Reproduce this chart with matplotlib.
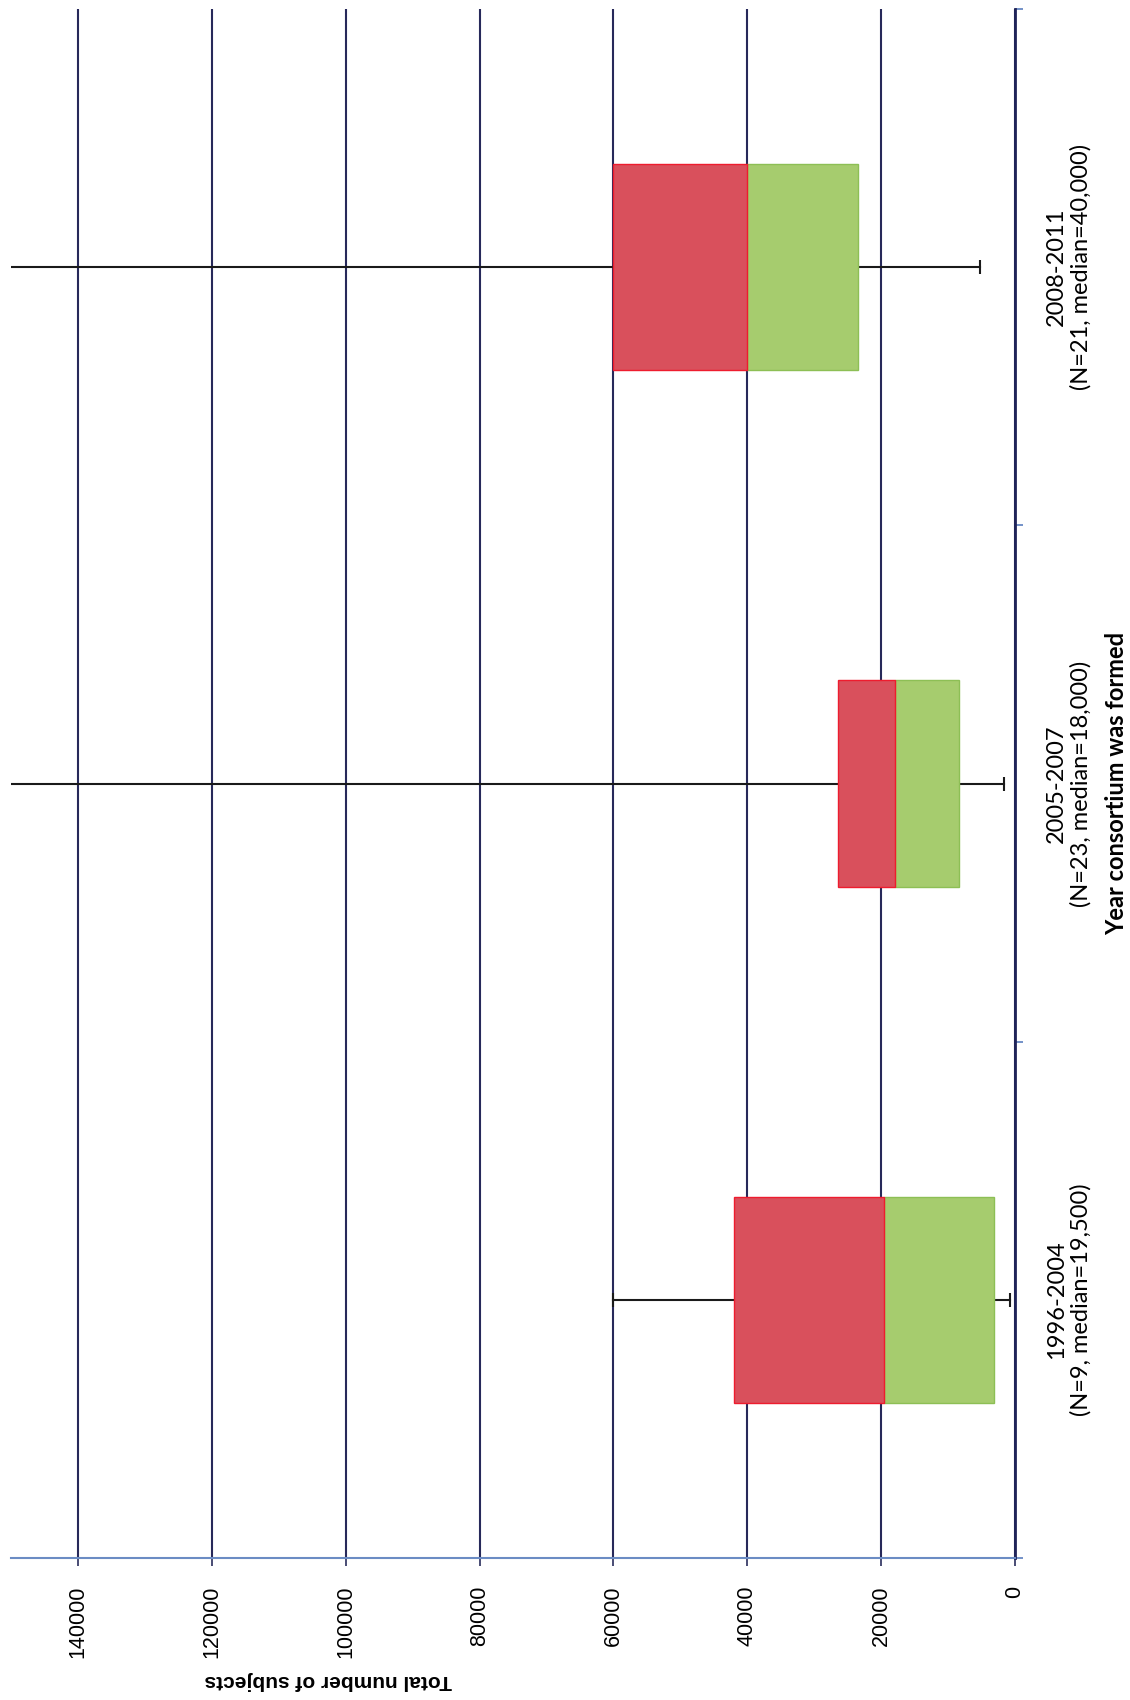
import matplotlib.pyplot as plt

# consortium formation periods, listed bottom to top
periods = ['1996-2004', '2005-2007', '2008-2011']
n_consortia = [9, 23, 21]
medians = [19500, 18000, 40000]

# box plot summaries of total subjects per consortium
minimums = [700, 1700, 5300]
q1 = [3100, 8300, 23400]
q3 = [42000, 26500, 60000]
maximums = [60000, 160000, 170000]

value_ticks = [0, 20000, 40000, 60000, 80000, 100000, 120000, 140000]

labels = []
for p, n, m in zip(periods, n_consortia, medians):
    labels.append(f'{p}\n(N={n}, median={m:,})')

fig = plt.figure(figsize=(11.3, 17), dpi=100)
ax = fig.add_axes([11 / 1130, 142 / 1700, 1004 / 1130, 1549 / 1700])

pos = [i + 0.5 for i in range(len(periods))]

# stacked boxes: q1 -> median in green, median -> q3 in red
lower = [m - a for m, a in zip(medians, q1)]
upper = [b - m for b, m in zip(q3, medians)]
ax.barh(pos, lower, left=q1, height=0.4, color='#a6cc6e',
        edgecolor='#8dbf55', linewidth=1, zorder=3)
ax.barh(pos, upper, left=medians, height=0.4, color='#d9505c',
        edgecolor='#ee1c2e', linewidth=1, zorder=3)

# whiskers with small caps
for y, lo, a, b, hi in zip(pos, minimums, q1, q3, maximums):
    ax.plot([lo, a], [y, y], color='#1a1a1a', lw=1.5, zorder=2)
    ax.plot([b, hi], [y, y], color='#1a1a1a', lw=1.5, zorder=2)
    ax.plot([lo, hi], [y, y], ls='none', marker='|', ms=10, mew=1.5,
            color='#1a1a1a', zorder=2)

ax.set_xlim(150000, 0)
ax.set_ylim(0, 3)

ax.set_xticks(value_ticks)
ax.set_xticklabels([str(v) for v in value_ticks], rotation=90,
                   fontsize=15.5, family='Liberation Sans')
ax.tick_params(axis='x', direction='out', length=6, width=1.2,
               color='#2a2d5c', pad=14)
ax.grid(axis='x', color='#27295a', lw=1.5)
ax.set_axisbelow(True)

ax.yaxis.tick_right()
ax.set_yticks([0, 1, 2, 3])
ax.set_yticklabels([])
ax.set_yticks(pos, minor=True)
ax.set_yticklabels(labels, minor=True, rotation=90, family='Lato',
                   fontsize=17, ha='left', va='center',
                   multialignment='center')
ax.tick_params(axis='y', which='minor', length=0, pad=22)
ax.tick_params(axis='y', which='major', direction='out', length=6,
               width=1.2, color='#5b7fbf')

for side in ['top', 'left']:
    ax.spines[side].set_visible(False)
ax.spines['bottom'].set_color('#6b8cc4')
ax.spines['bottom'].set_linewidth(1.5)
ax.spines['right'].set_color('#1f2358')
ax.spines['right'].set_linewidth(2)

ax.set_xlabel('Total number of subjects', rotation=180, fontweight='bold',
              fontsize=15, family='Liberation Sans')
ax.xaxis.set_label_coords(0.316, -0.0794)
ax.xaxis.label.set_va('center')

ax.yaxis.set_label_position('right')
ax.set_ylabel('Year consortium was formed', rotation=90, fontweight='bold',
              fontsize=17, family='Lato')
ax.yaxis.set_label_coords(1.1016, 0.5)
ax.yaxis.label.set_va('center')
ax.yaxis.label.set_ha('center')

fig.savefig('out.png', dpi=100)
